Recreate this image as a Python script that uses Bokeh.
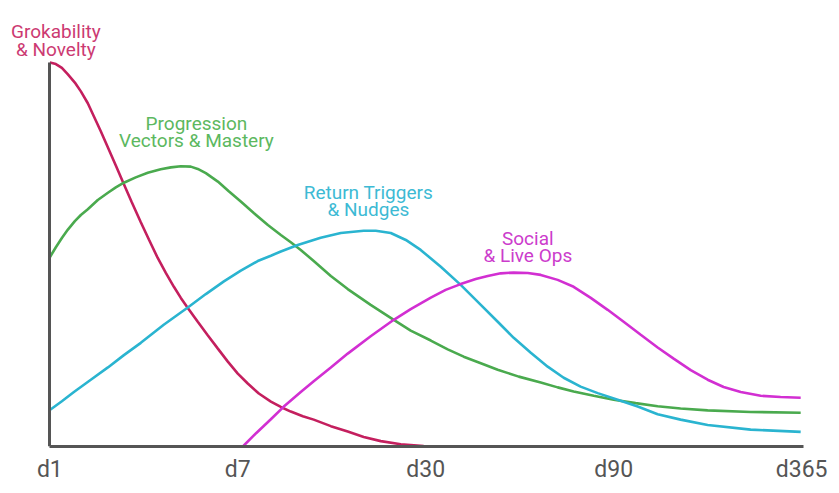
from bokeh.plotting import figure
from bokeh.models import FixedTicker, Label
from bokeh.embed import file_html
from bokeh.resources import INLINE

# x: position on the d1..d365 scale (0 = d1, 4 = d365), y: relative strength (0-100)
tick_labels = ["d1", "d7", "d30", "d90", "d365"]

grok_x = [0.0, 0.032, 0.064, 0.096, 0.133, 0.165, 0.202, 0.234, 0.271, 0.309,
          0.351, 0.394, 0.436, 0.484, 0.527, 0.574, 0.617, 0.660, 0.697, 0.734,
          0.787, 0.840, 0.894, 0.947, 1.000, 1.053, 1.112, 1.176, 1.229, 1.282,
          1.346, 1.404, 1.495, 1.585, 1.670, 1.761, 1.867, 1.989]
grok_y = [100, 99.6, 98.6, 96.9, 94.8, 92.5, 89.4, 86.0, 82.1, 77.9,
          73.2, 68.3, 63.6, 58.4, 53.9, 49.1, 45.2, 41.6, 38.7, 36.1,
          32.5, 29.0, 25.5, 22.1, 19.0, 16.4, 13.8, 11.7, 10.3, 9.1,
          7.9, 7.0, 5.3, 3.9, 2.5, 1.4, 0.6, 0.1]

prog_x = [0.0, 0.032, 0.064, 0.096, 0.133, 0.165, 0.202, 0.255, 0.309, 0.351,
          0.394, 0.457, 0.521, 0.590, 0.644, 0.697, 0.750, 0.787, 0.830, 0.894,
          0.952, 1.016, 1.085, 1.160, 1.229, 1.282, 1.335, 1.404, 1.495, 1.585,
          1.707, 1.830, 1.920, 2.027, 2.117, 2.202, 2.293, 2.383, 2.495, 2.612,
          2.702, 2.787, 2.894, 3.000, 3.117, 3.234, 3.356, 3.500, 3.729, 3.995]
prog_y = [49.3, 51.9, 54.3, 56.5, 58.7, 60.3, 61.8, 64.2, 66.1, 67.5,
          68.7, 70.1, 71.3, 72.2, 72.7, 73.0, 72.9, 72.3, 71.2, 69.0,
          66.5, 63.8, 60.8, 57.7, 55.1, 53.2, 51.2, 48.3, 44.4, 41.0,
          36.9, 33.0, 30.2, 27.6, 25.3, 23.4, 21.7, 20.0, 18.2, 16.7,
          15.4, 14.3, 13.2, 12.2, 11.3, 10.5, 9.9, 9.4, 9.0, 8.8]

ret_x = [0.0, 0.064, 0.128, 0.218, 0.309, 0.394, 0.484, 0.606, 0.734, 0.830,
         0.926, 1.016, 1.106, 1.176, 1.229, 1.319, 1.441, 1.548, 1.670, 1.734,
         1.814, 1.894, 1.973, 2.080, 2.186, 2.293, 2.383, 2.468, 2.559, 2.649,
         2.734, 2.824, 2.915, 3.021, 3.128, 3.234, 3.356, 3.500, 3.729, 3.995]
ret_y = [9.5, 11.8, 14.2, 17.4, 20.6, 23.8, 27.0, 31.7, 36.2, 39.7,
         43.0, 45.8, 48.3, 49.7, 50.8, 52.5, 54.4, 55.6, 56.2, 56.2,
         55.6, 53.8, 51.2, 46.8, 42.1, 36.9, 32.5, 28.3, 24.4, 20.8,
         17.9, 15.6, 13.9, 12.2, 10.4, 8.4, 7.0, 5.6, 4.4, 3.8]

soc_x = [1.027, 1.096, 1.176, 1.245, 1.335, 1.404, 1.495, 1.585, 1.707, 1.830,
         1.920, 2.027, 2.106, 2.186, 2.266, 2.330, 2.399, 2.468, 2.543, 2.612,
         2.702, 2.787, 2.878, 2.968, 3.053, 3.144, 3.234, 3.319, 3.410, 3.500,
         3.585, 3.676, 3.782, 3.888, 3.995]
soc_y = [0, 3.4, 7.1, 10.4, 14.2, 17.0, 20.6, 24.2, 28.7, 33.0,
         35.8, 38.8, 40.8, 42.3, 43.6, 44.4, 45.1, 45.3, 45.2, 44.7,
         43.4, 41.6, 38.7, 35.6, 32.5, 29.1, 25.8, 22.9, 19.9, 17.4,
         15.5, 14.2, 13.2, 12.9, 12.7]

series = [
    ("Grokability\n& Novelty", grok_x, grok_y, "#c41f5e", "#cc3a72"),
    ("Progression\nVectors & Mastery", prog_x, prog_y, "#4aaa4e", "#5cb860"),
    ("Return Triggers\n& Nudges", ret_x, ret_y, "#2ab4d0", "#3dbad4"),
    ("Social\n& Live Ops", soc_x, soc_y, "#d22fd2", "#cc3ccc"),
]

# label anchor (centre x, baseline y of first line) in data units
label_x = [0.032, 0.78, 1.695, 2.543]
label_y = [108.0, 84.1, 66.2, 54.2]
line_gap = 4.5

FONT = "Roboto"

p = figure(
    width=832,
    height=485,
    x_range=(-0.22, 4.01),
    y_range=(0, 112),
    output_backend="svg",
    toolbar_location=None,
    min_border_left=8,
    min_border_right=29,
    min_border_top=16,
    min_border_bottom=38,
)
p.grid.visible = False
p.outline_line_color = None

for (name, xs, ys, color, text_color), lx, ly in zip(series, label_x, label_y):
    p.line(xs, ys, line_color=color, line_width=2.6)
    for i, part in enumerate(name.split("\n")):
        p.add_layout(Label(
            x=lx, y=ly - i * line_gap, text=part,
            text_align="center", text_baseline="alphabetic",
            text_font=FONT, text_font_size="19px", text_color=text_color,
        ))

p.xaxis.ticker = FixedTicker(ticks=list(range(len(tick_labels))))
p.xaxis.major_label_overrides = {i: t for i, t in enumerate(tick_labels)}
p.xaxis.major_label_text_font = FONT
p.xaxis.major_label_text_font_size = "23px"
p.xaxis.major_label_text_color = "#555555"
p.xaxis.major_label_standoff = 9
p.xaxis.bounds = (0, 4.01)
p.yaxis.ticker = FixedTicker(ticks=[])
p.yaxis.bounds = (0, 100)
p.yaxis.fixed_location = 0
for ax in (p.xaxis, p.yaxis):
    ax.axis_line_color = "#555555"
    ax.axis_line_width = 3
    ax.major_tick_line_color = None
    ax.minor_tick_line_color = None
    ax.major_tick_out = 0
    ax.major_tick_in = 0

open("out.html", "w").write(file_html(p, INLINE))
